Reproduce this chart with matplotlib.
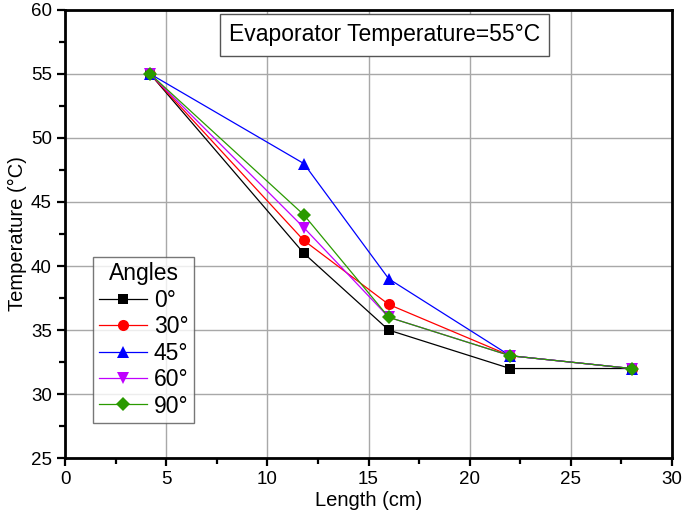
import matplotlib
matplotlib.use('Agg')
import matplotlib.pyplot as plt
from matplotlib.ticker import MultipleLocator

plt.rcParams['font.family'] = ['Liberation Sans', 'DejaVu Sans']

# data
length = [4.2, 11.8, 16, 22, 28]
temp_0 = [55, 41, 35, 32, 32]
temp_30 = [55, 42, 37, 33, 32]
temp_45 = [55, 48, 39, 33, 32]
temp_60 = [55, 43, 36, 33, 32]
temp_90 = [55, 44, 36, 33, 32]
labels = ['0°', '30°', '45°', '60°', '90°']

fig = plt.figure(figsize=(6.85, 5.16), dpi=100)
ax = fig.add_axes([0.095, 0.112, 0.886, 0.869])

series = [temp_0, temp_30, temp_45, temp_60, temp_90]
colors = ['black', '#ff0000', '#0000ff', '#c000ff', '#2a9a00']
markers = ['s', 'o', '^', 'v', 'D']
sizes = [7, 8, 8, 8, 7]
for ys, c, m, s, lab in zip(series, colors, markers, sizes, labels):
    ax.plot(length, ys, color=c, marker=m, markersize=s, linewidth=0.9,
            markeredgewidth=0, label=lab, zorder=3)

ax.set_xlim(0, 30)
ax.set_ylim(25, 60)
ax.xaxis.set_major_locator(MultipleLocator(5))
ax.xaxis.set_minor_locator(MultipleLocator(2.5))
ax.yaxis.set_major_locator(MultipleLocator(5))
ax.yaxis.set_minor_locator(MultipleLocator(2.5))
ax.grid(True, which='major', color='#a8a8a8', linewidth=1)
ax.set_axisbelow(True)

for sp in ax.spines.values():
    sp.set_linewidth(2)
ax.tick_params(which='major', direction='out', length=6, width=1.6, labelsize=13.5)
ax.tick_params(which='minor', direction='out', length=4, width=1.6)

ax.set_xlabel('Length (cm)', fontsize=14.5, labelpad=2)
ax.set_ylabel('Temperature (°C)', fontsize=14.5, labelpad=3)

ax.text(0.526, 0.944, 'Evaporator Temperature=55°C', transform=ax.transAxes,
        ha='center', va='center', fontsize=16.5,
        bbox=dict(boxstyle='square,pad=0.4', facecolor='white',
                  edgecolor='#555555', linewidth=1))

leg = ax.legend(title='Angles', loc='lower left', bbox_to_anchor=(0.046, 0.078),
                fontsize=16.5, title_fontsize=16.5, frameon=True, fancybox=False,
                edgecolor='#555555', handlelength=2.1, borderpad=0.25,
                labelspacing=0.15, handletextpad=0.3, borderaxespad=0)
leg.get_frame().set_linewidth(1)

fig.savefig('out.png', dpi=100)
